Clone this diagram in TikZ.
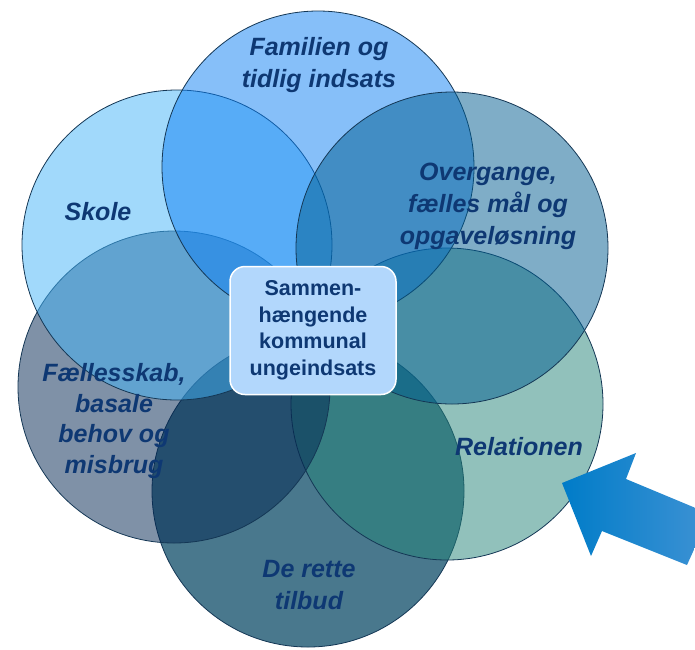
\documentclass[tikz,border=0pt]{standalone}
\usepackage{fontspec}
\setmainfont{Liberation Sans}
\definecolor{cDe}{RGB}{13,75,104}
\definecolor{cRel}{RGB}{37,133,121}
\definecolor{cFael}{RGB}{1,37,81}
\definecolor{cSkole}{RGB}{69,181,249}
\definecolor{cFam}{RGB}{15,129,245}
\definecolor{cOver}{RGB}{0,93,145}
\definecolor{rim}{RGB}{20,55,85}
\definecolor{lbl}{RGB}{14,56,115}
\definecolor{boxfill}{RGB}{178,215,252}
\definecolor{arrL}{RGB}{0,124,200}
\definecolor{arrR}{RGB}{62,146,212}
\begin{document}
\begin{tikzpicture}[x=1pt,y=-1pt,
  ring/.style={draw=rim,line width=0.8pt},
  lab/.style={text=lbl,font=\fontsize{25}{32}\selectfont\bfseries\itshape,align=center},
  hub/.style={rounded corners=15pt,fill=boxfill,draw=white,line width=1.5pt,
     minimum width=166pt,minimum height=128pt,text=lbl,align=center,
     font=\fontsize{21.5}{26.5}\selectfont\bfseries}]
\useasboundingbox (0,0) rectangle (695,649);
\fill[white] (0,0) rectangle (695,649);
% circles in stacking order
\path[ring,fill=cDe,fill opacity=0.75] (308,491) circle[radius=156pt];
\path[ring,fill=cRel,fill opacity=0.5] (447,404) circle[radius=156pt];
\path[ring,fill=cFael,fill opacity=0.5] (174,387) circle[radius=156pt];
\path[ring,fill=cSkole,fill opacity=0.5] (177,245) circle[radius=155pt];
\path[ring,fill=cFam,fill opacity=0.5] (318,167) circle[radius=156pt];
\path[ring,fill=cOver,fill opacity=0.5] (452,248) circle[radius=156pt];
% labels
\node[lab] (fam) at (319,65) {Familien og\\tidlig indsats};
\node[lab] (sko) at (98,212) {Skole};
\node[lab] (ove) at (488,206) {Overgange,\\fælles mål og\\opgaveløsning};
\node[lab,font=\fontsize{25}{30.5}\selectfont\bfseries\itshape] (fae) at (114,421) {Fællesskab,\\basale\\behov og\\misbrug};
\node[lab] (rel) at (519,447) {Relationen};
\node[lab] (der) at (309,585) {De rette\\tilbud};
% hub
\node[hub] (hubn) at (313,330.5) {Sammen-\\hængende\\kommunal\\ungeindsats};
% arrow
\begin{scope}
\clip (0,0) rectangle (695,649);
\shade[left color=arrL,right color=arrR]
  (562,483) -- (636,453) -- (626,479) -- (710,514) -- (687,565) -- (602,531) -- (591,556) -- cycle;
\end{scope}
\end{tikzpicture}
\end{document}
